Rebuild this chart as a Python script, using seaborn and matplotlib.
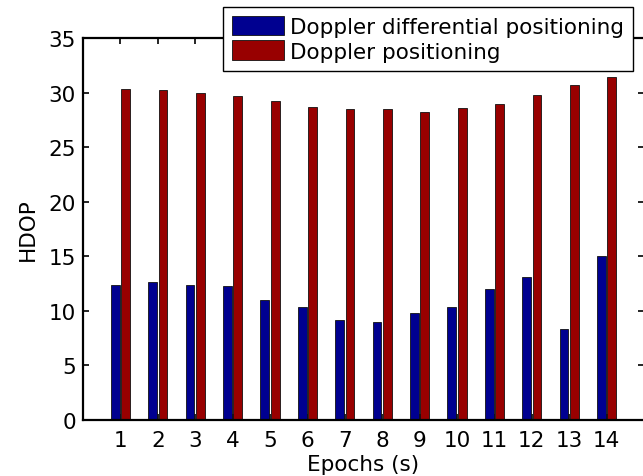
import matplotlib
matplotlib.use("Agg")
import matplotlib.pyplot as plt
import seaborn as sns
import pandas as pd

epochs = list(range(1, 15))
doppler_diff = [12.4, 12.6, 12.4, 12.3, 11.0, 10.35, 9.2, 9.0, 9.8, 10.35, 12.0, 13.1, 8.35, 15.0]
doppler_pos = [30.3, 30.2, 30.0, 29.7, 29.25, 28.7, 28.5, 28.5, 28.2, 28.6, 28.95, 29.8, 30.7, 31.45]
series_names = ["Doppler differential positioning", "Doppler positioning"]
colors = ["#000090", "#980000"]

sns.set_style("ticks")
plt.rcParams["font.family"] = ["DejaVu Sans"]
plt.rcParams.update({
    "text.color": "black",
    "axes.labelcolor": "black",
    "axes.edgecolor": "black",
    "xtick.color": "black",
    "ytick.color": "black",
})
FS = 15.5

df = pd.DataFrame({
    "Epoch": epochs * 2,
    "HDOP": doppler_diff + doppler_pos,
    "Method": [series_names[0]] * len(epochs) + [series_names[1]] * len(epochs),
})

fig = plt.figure(figsize=(6.43, 4.77), dpi=100)
ax = fig.add_axes([83 / 643, 1 - 421 / 477, (644 - 83) / 643, (421 - 39) / 477])

sns.barplot(data=df, x="Epoch", y="HDOP", hue="Method", palette=colors,
            saturation=1, native_scale=True, width=0.56, gap=0.15,
            edgecolor="#111111", linewidth=0.6, ax=ax, legend=False)

ax.set_xlim(0, 15)
ax.set_ylim(0, 35)
ax.set_xticks(epochs)
ax.set_xticklabels([str(e) for e in epochs])
ax.set_yticks(range(0, 36, 5))
ax.tick_params(direction="in", top=True, right=True, length=4, width=1.2,
               labelsize=FS)
ax.tick_params(axis="x", pad=7)
ax.tick_params(axis="y", pad=5)
for sp in ax.spines.values():
    sp.set_linewidth(1.6)
    sp.set_color("black")
    sp.set_visible(True)

ax.set_xlabel("Epochs (s)", fontsize=FS, labelpad=3)
ax.set_ylabel("HDOP", fontsize=FS, labelpad=8)

handles = [plt.Rectangle((0, 0), 1, 1, facecolor=c, edgecolor="#111111", linewidth=0.6)
           for c in colors]
leg = ax.legend(handles, series_names, loc="upper right",
                bbox_to_anchor=(633 / 643, 1 - 8 / 477), bbox_transform=fig.transFigure,
                fontsize=FS, frameon=True, fancybox=False, framealpha=1,
                edgecolor="black", handlelength=2.4, handleheight=1.0,
                handletextpad=0.28, borderpad=0.42, labelspacing=0.16,
                borderaxespad=0)
leg.get_frame().set_linewidth(1.0)

fig.savefig("out.png", dpi=100)
